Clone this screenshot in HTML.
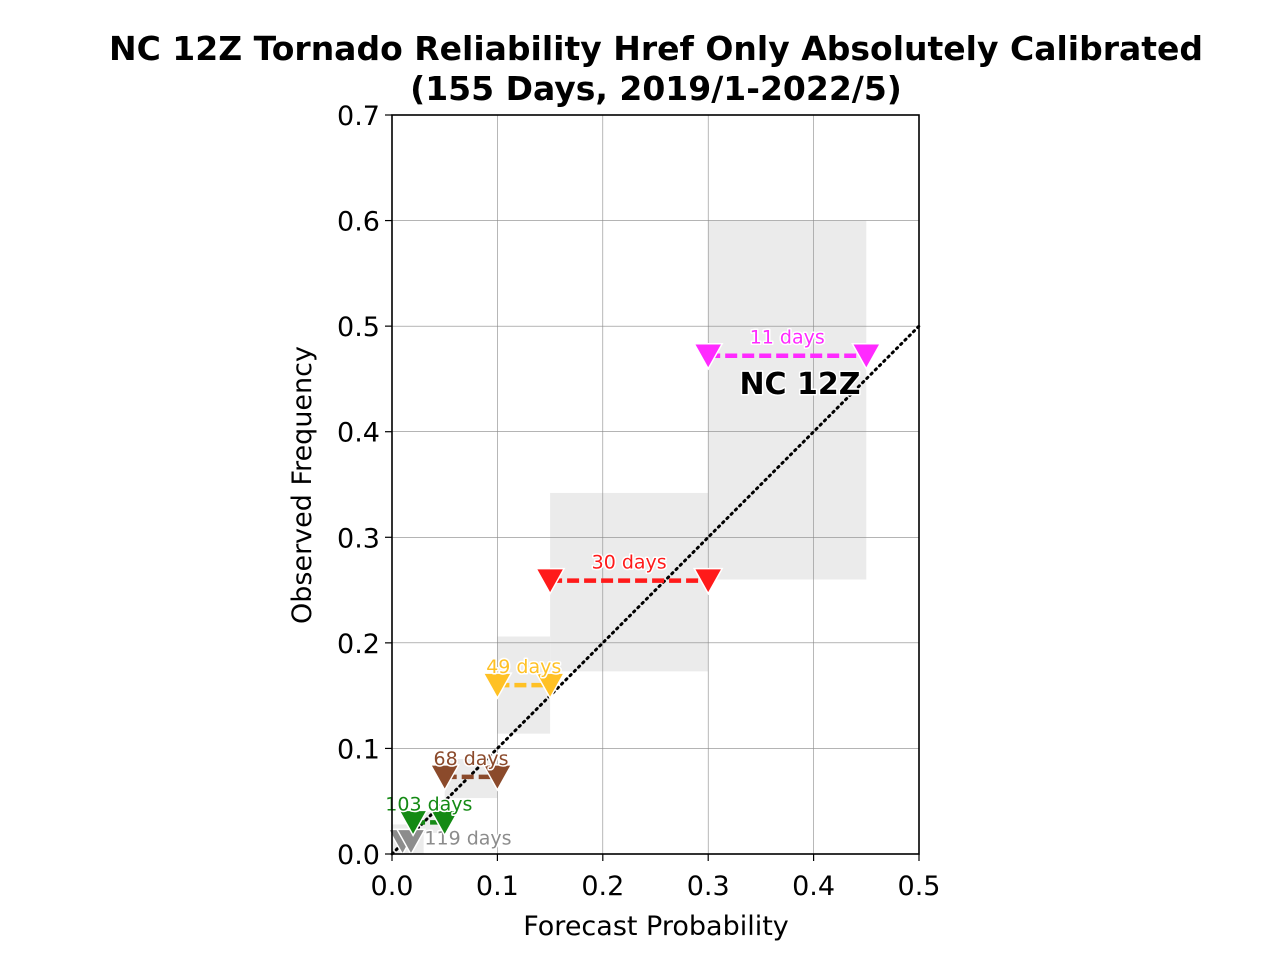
<!DOCTYPE html>
<html><head><meta charset="utf-8"><style>
body{margin:0;background:#fff;}
svg text{font-family:"DejaVu Sans","Liberation Sans",sans-serif;}
.lbl{paint-order:stroke;stroke:#fff;stroke-width:3px;stroke-linejoin:round;}
</style></head><body>
<svg id="chart" width="1280" height="960">
<rect width="1280" height="960" fill="#fff"/>
<g id="boxes"></g><g id="grid"></g><g id="marks"></g><g id="axes"></g>
</svg>
<script>
const binLo=[0.01,0.02,0.05,0.10,0.15,0.30];
const binHi=[0.018,0.05,0.10,0.15,0.30,0.45];
const obsFreq=[0.012,0.03,0.073,0.16,0.259,0.472];
const ciLo=[0.0,0.02,0.053,0.114,0.173,0.26];
const ciHi=[0.028,0.04,0.09,0.206,0.342,0.6];
const boxLo=[0.0,0.02,0.05,0.10,0.15,0.30];
const boxHi=[0.03,0.05,0.10,0.15,0.30,0.45];
const dayCounts=[119,103,68,49,30,11];
const colors=["#8c8c8c","#148a14","#8b4a2b","#ffc125","#ff1a1a","#ff2aff"];
const xTicks=[0,0.1,0.2,0.3,0.4,0.5];
const yTicks=[0,0.1,0.2,0.3,0.4,0.5,0.6,0.7];
const X0=392,X1=919,Y0=854,Y1=115;
const xs=v=>X0+v/0.5*(X1-X0), ys=v=>Y0-v/0.7*(Y0-Y1);
const NS="http://www.w3.org/2000/svg";
function mk(p,t,a){const e=document.createElementNS(NS,t);for(const k in a)e.setAttribute(k,a[k]);p.appendChild(e);return e;}
const gb=document.getElementById('boxes'),gg=document.getElementById('grid'),gm=document.getElementById('marks'),ga=document.getElementById('axes');
binLo.forEach((b,i)=>{
 const r=mk(gb,'rect',{x:xs(boxLo[i]),y:ys(ciHi[i]),width:xs(boxHi[i])-xs(boxLo[i]),height:ys(ciLo[i])-ys(ciHi[i]),fill:'#ebebeb'});
 
 
});
xTicks.forEach(t=>{const l=mk(gg,'line',{x1:xs(t),x2:xs(t),y1:Y1,y2:Y0,stroke:'#888','stroke-width':0.6});
 });
yTicks.forEach(t=>{const l=mk(gg,'line',{x1:X0,x2:X1,y1:ys(t),y2:ys(t),stroke:'#888','stroke-width':0.6});
 });
const diag=mk(gm,'line',{x1:xs(0),y1:ys(0),x2:xs(0.5),y2:ys(0.5),stroke:'#000','stroke-width':3,'stroke-dasharray':'1.5 4.5','stroke-linecap':'round'});

binLo.forEach((b,i)=>{
 const y=ys(obsFreq[i]);
 const l=mk(gm,'line',{x1:xs(b),x2:xs(binHi[i]),y1:y,y2:y,stroke:colors[i],'stroke-width':4.5,'stroke-dasharray':'12 5'});
 
 [b,binHi[i]].forEach(xv=>{const x=xs(xv);
  const m=mk(gm,'path',{d:`M${x-14},${y-12}L${x+14},${y-12}L${x},${y+13}Z`,fill:colors[i],stroke:'#fff','stroke-width':1.5});
  });
 const tx=i==0?xs(binHi[i])+57:(xs(b)+xs(binHi[i]))/2;
 const ty=i==0?y+3:y-12;
 const t=mk(gm,'text',{x:tx,y:ty,'text-anchor':'middle','font-size':19,fill:colors[i],class:'lbl'});
 t.textContent=dayCounts[i]+' days';
 
});
const nc=mk(gm,'text',{x:800,y:394,'text-anchor':'middle','font-size':30,'font-weight':'bold',fill:'#000',class:'lbl'});
nc.textContent='NC 12Z';
const fr=mk(ga,'rect',{x:X0,y:Y1,width:X1-X0,height:Y0-Y1,fill:'none',stroke:'#000','stroke-width':1.6});

xTicks.forEach(t=>{mk(ga,'line',{x1:xs(t),x2:xs(t),y1:Y0,y2:Y0+7,stroke:'#000','stroke-width':1.2});
 const e=mk(ga,'text',{x:xs(t),y:Y0+41,'text-anchor':'middle','font-size':27});e.textContent=t.toFixed(1);
 });
yTicks.forEach(t=>{mk(ga,'line',{x1:X0-7,x2:X0,y1:ys(t),y2:ys(t),stroke:'#000','stroke-width':1.2});
 const e=mk(ga,'text',{x:X0-12,y:ys(t)+10,'text-anchor':'end','font-size':27});e.textContent=t.toFixed(1);
 });
let e=mk(ga,'text',{x:656,y:935,'text-anchor':'middle','font-size':27});e.textContent='Forecast Probability';

e=mk(ga,'text',{x:0,y:0,'text-anchor':'middle','font-size':27,transform:'translate(311,485) rotate(-90)'});e.textContent='Observed Frequency';

e=mk(ga,'text',{x:656,y:60,'text-anchor':'middle','font-size':33,'font-weight':'bold'});e.textContent='NC 12Z Tornado Reliability Href Only Absolutely Calibrated';

e=mk(ga,'text',{x:656,y:100,'text-anchor':'middle','font-size':33,'font-weight':'bold'});e.textContent='(155 Days, 2019/1-2022/5)';

</script>
</body></html>
